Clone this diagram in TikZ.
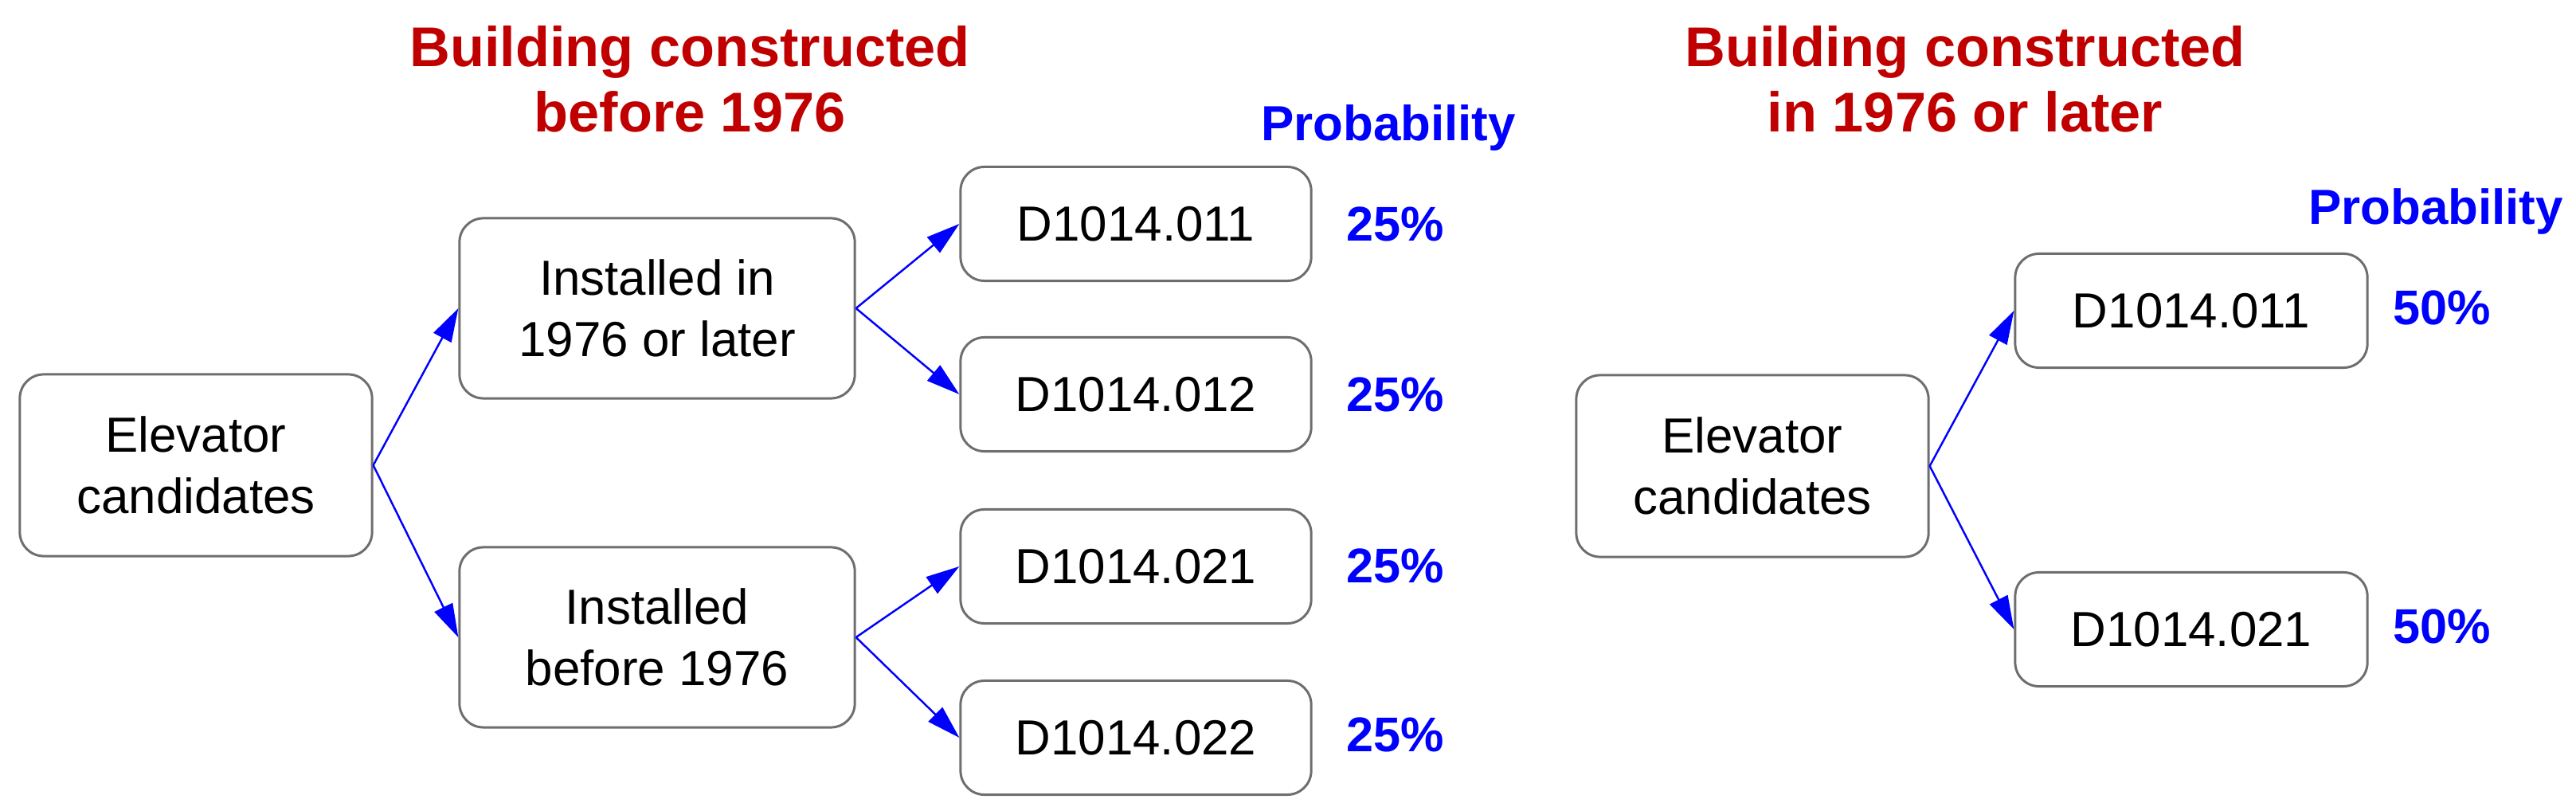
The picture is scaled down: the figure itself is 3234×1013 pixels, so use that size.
\documentclass[tikz,border=0pt]{standalone}
\usepackage{fontspec}
\setmainfont{Liberation Sans}
\usetikzlibrary{arrows.meta}
\definecolor{titlered}{HTML}{C00000}
\definecolor{probblue}{HTML}{0000FF}
\definecolor{boxgray}{HTML}{6E6E6E}
\tikzset{
  box/.style={draw=boxgray, line width=0.85pt, rounded corners=0.3cm, align=center,
    font=\fontsize{17.6}{21.8}\selectfont, inner sep=0pt},
  bigbox/.style={box, minimum width=4.42cm, minimum height=2.28cm},
  midbox/.style={box, minimum width=4.96cm, minimum height=2.26cm},
  leafbox/.style={box, minimum width=4.40cm, minimum height=1.43cm},
  ttl/.style={text=titlered, align=center, font=\fontsize{20}{23.3}\selectfont\bfseries, inner sep=0pt},
  prob/.style={text=probblue, font=\fontsize{17.6}{21}\selectfont\bfseries, inner sep=0pt},
  pct/.style={text=probblue, font=\fontsize{17.4}{21}\selectfont\bfseries, inner sep=0pt},
  conn/.style={draw=probblue, line width=0.7pt, -{Triangle[length=0.42cm,width=0.25cm]}, shorten >=0pt}
}
\begin{document}
\begin{tikzpicture}[x=0.01cm,y=-0.01cm]
\useasboundingbox (0,0) rectangle (3234,1013);
% left tree
\node[ttl] (t1) at (866,99) {Building constructed\\before 1976};
\node[prob] (pr1) at (1743,161) {Probability};
\node[bigbox] (e1) at (246,584) {Elevator\\candidates};
\node[midbox] (i1) at (825,387) {Installed in\\1976 or later};
\node[midbox] (i2) at (825,800) {Installed\\before 1976};
\node[leafbox] (d11) at (1426,281) {D1014.011};
\node[leafbox] (d12) at (1426,495) {D1014.012};
\node[leafbox] (d21) at (1426,711) {D1014.021};
\node[leafbox] (d22) at (1426,926) {D1014.022};
\node[pct] (p11) at (1752,281) {25\%};
\node[pct] (p12) at (1752,495) {25\%};
\node[pct] (p21) at (1752,710) {25\%};
\node[pct] (p22) at (1752,922) {25\%};
\draw[conn] (e1.east) -- (i1.west);
\draw[conn] (e1.east) -- (i2.west);
\draw[conn] (i1.east) -- (d11.west);
\draw[conn] (i1.east) -- (d12.west);
\draw[conn] (i2.east) -- (d21.west);
\draw[conn] (i2.east) -- (d22.west);
% right tree
\node[ttl] (t2) at (2467,99) {Building constructed\\in 1976 or later};
\node[prob] (pr2) at (3058,266) {Probability};
\node[bigbox] (e2) at (2200,585) {Elevator\\candidates};
\node[leafbox, minimum width=4.42cm] (r11) at (2751,390) {D1014.011};
\node[leafbox, minimum width=4.42cm] (r21) at (2751,790) {D1014.021};
\node[pct] (q11) at (3066,386) {50\%};
\node[pct] (q21) at (3066,786) {50\%};
\draw[conn] (e2.east) -- (r11.west);
\draw[conn] (e2.east) -- (r21.west);
\end{tikzpicture}
\end{document}
